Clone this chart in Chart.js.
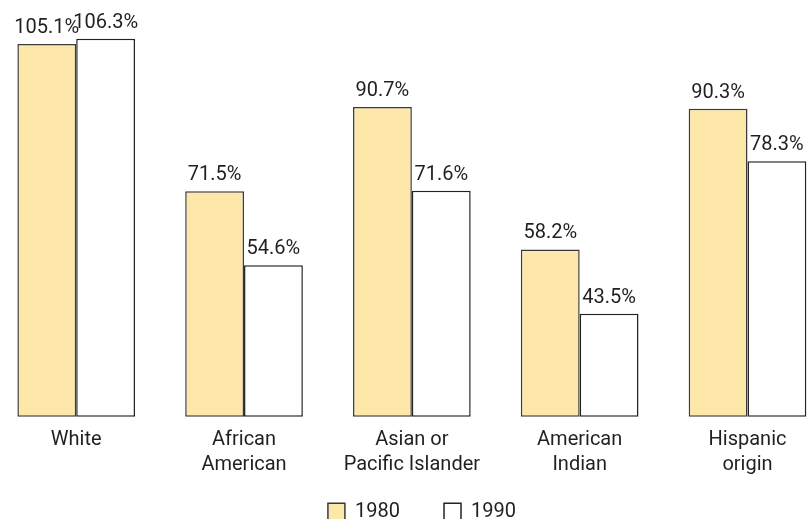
<!DOCTYPE html>
<html>
<head>
<meta charset="utf-8">
<script src="https://cdn.jsdelivr.net/npm/chart.js@4"></script>
<style>
  html, body { margin: 0; padding: 0; background: #fff; overflow: hidden; }
  #wrap { width: 810px; height: 519px; position: relative; }
</style>
</head>
<body>
<div id="wrap"><canvas id="chart"></canvas></div>
<script>
  const categories = [['White'], ['African', 'American'], ['Asian or', 'Pacific Islander'], ['American', 'Indian'], ['Hispanic', 'origin']];
  const years = ['1980', '1990'];
  const values1980 = [105.1, 71.5, 90.7, 58.2, 90.3];
  const values1990 = [106.3, 54.6, 71.6, 43.5, 78.3];
  const yMin = 20;
  const yMax = 110;

  const fontFamily = "Roboto, 'Liberation Sans', sans-serif";
  const textColor = '#231f20';

  // draws the percent above each bar
  const valueLabels = {
    id: 'valueLabels',
    afterDatasetsDraw(chart) {
      const ctx = chart.ctx;
      ctx.save();
      ctx.font = '20px ' + fontFamily;
      ctx.fillStyle = textColor;
      ctx.textAlign = 'center';
      ctx.textBaseline = 'alphabetic';
      chart.data.datasets.forEach((ds, i) => {
        chart.getDatasetMeta(i).data.forEach((bar, j) => {
          ctx.fillText(ds.data[j].toFixed(1) + '%', bar.x, bar.y - 11);
        });
      });
      ctx.restore();
    }
  };

  const hiddenAxis = (pos, w) => ({
    position: pos,
    display: true,
    grid: { display: false, drawTicks: false },
    border: { display: false },
    ticks: { display: false },
    afterFit: (scale) => { scale.width = w; }
  });

  new Chart(document.getElementById('chart'), {
    type: 'bar',
    data: {
      labels: categories,
      datasets: [
        {
          label: years[0],
          data: values1980,
          base: yMin,
          backgroundColor: '#fee8a9',
          borderColor: '#3a3a3a',
          borderWidth: 1.5,
          borderSkipped: false,
          clip: false,
        },
        {
          label: years[1],
          data: values1990,
          base: yMin,
          backgroundColor: '#ffffff',
          borderColor: '#222222',
          borderWidth: 1.5,
          borderSkipped: false,
          clip: false,
        }
      ]
    },
    options: {
      responsive: true,
      maintainAspectRatio: false,
      animation: false,
      categoryPercentage: 0.701,
      barPercentage: 1.0,
      layout: { padding: { top: 22.5, left: 33.9, right: 0, bottom: 0 } },
      plugins: {
        tooltip: { enabled: false },
        legend: {
          position: 'bottom',
          maxHeight: 41.5,
          labels: {
            boxWidth: 17,
            boxHeight: 17,
            padding: 24.3,
            color: textColor,
            font: { family: fontFamily, size: 20 },
            // extra gap after the first item
            generateLabels: (chart) => {
              const items = Chart.defaults.plugins.legend.labels.generateLabels(chart);
              items[0].text += '    ';
              return items;
            }
          }
        }
      },
      scales: {
        x: {
          offset: false,
          grid: { display: false, drawTicks: false },
          border: { display: false },
          ticks: {
            color: textColor,
            padding: 11,
            maxRotation: 0,
            autoSkip: false,
            font: { family: fontFamily, size: 20, lineHeight: 1.25 }
          },
          afterFit: (scale) => { scale.height = 60.8; }
        },
        y: {
          ...hiddenAxis('left', 42.3),
          min: yMin,
          max: yMax
        },
        yRight: hiddenAxis('right', 62.5)
      }
    },
    plugins: [valueLabels]
  });
</script>
</body>
</html>
